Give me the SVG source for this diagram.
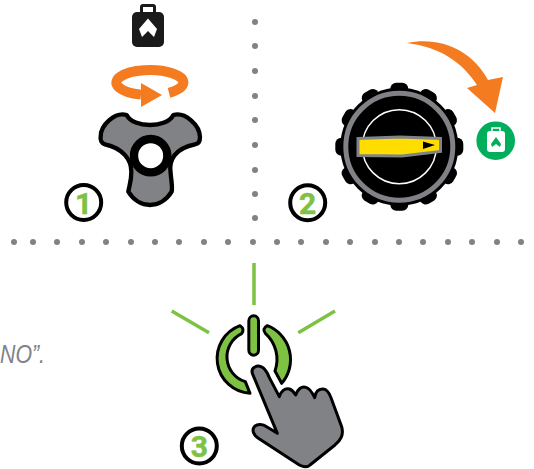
<svg xmlns="http://www.w3.org/2000/svg" xmlns:xlink="http://www.w3.org/1999/xlink" width="534" height="469" viewBox="0 0 534 469">
<style>
.dot{fill:#808285}
.badge{fill:#fff;stroke:#000;stroke-width:4}
.num{font-family:"Roboto","Liberation Sans",sans-serif;font-weight:700;font-size:30px;fill:#7dc242;stroke:#7dc242;stroke-width:.5;text-anchor:middle}
.ray{stroke:#7dc242;stroke-width:3.5;fill:none}
.org{fill:#f47b20}
.pw{fill:#7dc242;stroke:#000;stroke-width:9;stroke-linejoin:round}
</style>
<defs>
<circle id="d" r="3" class="dot"/>
<rect id="tooth" x="-9" y="-64" width="18" height="12" rx="6" fill="#000"/>
</defs>
<rect width="534" height="469" fill="#fff"/>
<g id="connectors">
<use xlink:href="#d" x="255" y="22"/><use xlink:href="#d" x="255" y="46"/><use xlink:href="#d" x="255" y="71"/><use xlink:href="#d" x="255" y="96"/><use xlink:href="#d" x="255" y="120"/><use xlink:href="#d" x="255" y="145"/><use xlink:href="#d" x="255" y="170"/><use xlink:href="#d" x="255" y="194"/><use xlink:href="#d" x="255" y="218"/>
<use xlink:href="#d" x="14" y="242"/><use xlink:href="#d" x="33" y="242"/><use xlink:href="#d" x="57" y="242"/><use xlink:href="#d" x="82" y="242"/><use xlink:href="#d" x="106" y="242"/><use xlink:href="#d" x="131" y="242"/><use xlink:href="#d" x="155" y="242"/><use xlink:href="#d" x="179" y="242"/><use xlink:href="#d" x="204" y="242"/><use xlink:href="#d" x="228" y="242"/><use xlink:href="#d" x="253" y="242"/><use xlink:href="#d" x="277" y="242"/><use xlink:href="#d" x="301" y="242"/><use xlink:href="#d" x="326" y="242"/><use xlink:href="#d" x="350" y="242"/><use xlink:href="#d" x="375" y="242"/><use xlink:href="#d" x="399" y="242"/><use xlink:href="#d" x="423" y="242"/><use xlink:href="#d" x="448" y="242"/><use xlink:href="#d" x="472" y="242"/><use xlink:href="#d" x="497" y="242"/><use xlink:href="#d" x="521" y="242"/>
</g>
<g id="step1">
<g id="tank-black">
<rect x="141.500" y="5.500" width="13" height="9" rx="1.500" fill="none" stroke="#1a1a1a" stroke-width="3"/>
<rect x="132" y="12" width="32" height="35" rx="5" fill="#1a1a1a"/>
<path d="M148,18.500 L157,29 L154,37 L148,31 L142,37 L139,29 Z" fill="#fff"/>
</g>
<g id="rotate-arrow">
<path d="M141,94.600 A33.500,12.500 0 1 1 169,92.800" fill="none" stroke="#f47b20" stroke-width="10"/>
<path class="org" d="M141,83 L162,95 L141,107 Z"/>
</g>
<g id="knob" transform="translate(60 0) scale(.33333)">
<path d="M200,345 C220,385 320,385 340,345 C375,335 420,375 420,412 C420,425 415,432 405,433 C345,445 325,480 332,520 C334,545 338,560 335,575 C320,600 295,615 270,615 C245,615 220,600 205,575 C208,555 214,545 214,515 C214,480 190,445 135,433 C125,430 120,420 122,410 C122,375 165,335 200,345 Z" fill="#808285" stroke="#000" stroke-width="13" stroke-linejoin="round"/>
<circle cx="272" cy="467" r="50" fill="#fff" stroke="#000" stroke-width="25"/>
</g>
<g id="badge1"><circle class="badge" cx="83.700" cy="202.500" r="17.500"/><text class="num" x="83.700" y="213.500">1</text></g>
</g>
<g id="step2">
<g id="dial">
<circle cx="399.300" cy="146.700" r="59" fill="#000"/>
<g transform="translate(399.300 146.700)">
<use xlink:href="#tooth"/><use xlink:href="#tooth" transform="rotate(30)"/><use xlink:href="#tooth" transform="rotate(60)"/><use xlink:href="#tooth" transform="rotate(90)"/><use xlink:href="#tooth" transform="rotate(120)"/><use xlink:href="#tooth" transform="rotate(150)"/><use xlink:href="#tooth" transform="rotate(180)"/><use xlink:href="#tooth" transform="rotate(210)"/><use xlink:href="#tooth" transform="rotate(240)"/><use xlink:href="#tooth" transform="rotate(270)"/><use xlink:href="#tooth" transform="rotate(300)"/><use xlink:href="#tooth" transform="rotate(330)"/>
</g>
<circle cx="399.300" cy="146.700" r="53.500" fill="none" stroke="#808285" stroke-width="5"/>
<circle cx="399.300" cy="146.700" r="37" fill="none" stroke="#fff" stroke-width="1.500"/>
<path d="M358,138.500 L400,137 L440.500,138.500 L440.500,151.500 L402,156 L358,155.500 Z" fill="#ffdd00" stroke="#808285" stroke-width="3"/>
<path d="M423,141.500 L435,145 L423,149 Z" fill="#000"/>
</g>
<g id="green-arrow-icon">
<path class="org" d="M407,43 C440,36 472,50 488,80 L503,77 L495,113 L467,88 L477,85 C462,62 440,47 407,43 Z"/>
<circle cx="495.700" cy="140.700" r="19.300" fill="#00ae5b"/>
<rect x="492" y="128" width="8" height="5" fill="none" stroke="#fff" stroke-width="1.500"/>
<rect x="487" y="131" width="18" height="21" rx="3" fill="#fff"/>
<path d="M496,137 L501,144 L500,147 L496,144 L492,147 L491,144 Z" fill="#00ae5b"/>
</g>
<g id="badge2"><circle class="badge" cx="307.700" cy="202.700" r="17.500"/><text class="num" x="307.700" y="213.500">2</text></g>
</g>
<g id="step3">
<path class="ray" d="M254,263 V305 M171.700,311 L209,332.700 M335,311 L298.300,332.700"/>
<g id="power" transform="translate(160 255) scale(.33333)">
<path class="pw" d="M240,212 A104.800,104.800 0 0 0 270,415 L256,380 A77.400,77.400 0 0 1 245,236 Q255,222 240,212 Z"/>
<path class="pw" d="M322,212 A109,109 0 0 1 365,385 L345,348 A105,105 0 0 0 316,235 Q305,222 322,212 Z"/>
<rect class="pw" x="266.500" y="182.500" width="29" height="118" rx="14.500"/>
<path id="hand" d="M277,355 C272,338 290,330 303,335 C315,340 322,352 328,368 L358,425 C362,410 375,398 388,402 C398,405 404,415 407,420 C412,404 425,392 438,397 C450,400 458,415 464,428 C466,412 475,400 490,402 C502,403 508,415 513,428 L545,515 C552,540 542,555 525,570 L450,630 C440,640 425,635 410,625 L295,550 C280,540 275,525 283,515 C292,505 310,508 320,515 L352,535 Z" fill="#808285" stroke="#000" stroke-width="9" stroke-linejoin="round"/>
</g>
<g id="badge3"><circle class="badge" cx="199.300" cy="446" r="17.500"/><text class="num" x="199.300" y="457">3</text></g>
</g>
<text id="caption" x="0" y="363" font-family="'Liberation Sans',sans-serif" font-style="italic" font-size="25" fill="#808285" textLength="45" lengthAdjust="spacingAndGlyphs">NO”.</text>
</svg>
